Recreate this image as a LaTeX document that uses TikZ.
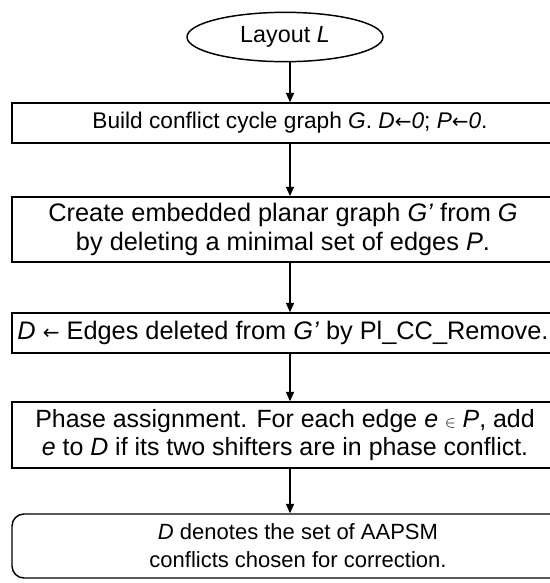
\documentclass[tikz,border=0pt]{standalone}
\usepackage{fontspec}
\setmainfont{Liberation Sans}
\newfontfamily\arrowfont{DejaVu Sans}
\usetikzlibrary{arrows.meta, shapes.geometric, positioning}
\definecolor{node-border}{HTML}{000000}
\definecolor{node-fill}{HTML}{FFFFFF}
\definecolor{arrow}{HTML}{000000}
\newcommand{\getsarrow}{{\arrowfont\fontsize{15}{15}\selectfont ←}}
\tikzset{
  % #1 = x of the text centre; the box always starts at x=12
  flow-node/.style={
    draw=node-border, fill=node-fill, line width=1.1pt,
    minimum width={1.5pt*(#1-12)}, align=center, inner sep=2pt
  },
  flow-start/.style={
    draw=node-border, fill=node-fill, ellipse, line width=1.1pt,
    minimum width=147pt, minimum height=37pt, inner sep=0pt,
    font=\fontsize{17.5}{21}\selectfont
  },
  flow-edge/.style={-{Triangle[length=7pt, width=6pt]}, line width=1.1pt, draw=arrow}
}

\begin{document}
\begin{tikzpicture}[x=0.75pt, y=-0.75pt]
  \useasboundingbox (0,0) rectangle (550,583);
  \clip (0,0) rectangle (550,583);

  \coordinate (spine) at (290, 0);

  \node[flow-start] (layout) at (285, 37) {Layout \textit{L}};
  \node[flow-node=290, minimum height=30pt, font=\fontsize{17}{20}\selectfont]
    (build) at (290, 123)
    {Build conflict cycle graph \textit{G}. \textit{D}\getsarrow\textit{0}; \textit{P}\getsarrow\textit{0}.};
  \node[flow-node=283, minimum height=49pt, font=\fontsize{19}{21.5}\selectfont]
    (planar) at (283, 229.5)
    {Create embedded planar graph \textit{G’} from \textit{G}\\
     by deleting a minimal set of edges \textit{P}.};
  \node[flow-node=283, minimum height=30pt, font=\fontsize{19}{21.5}\selectfont]
    (remove) at (283, 333)
    {\textit{D} \getsarrow{} Edges deleted from \textit{G’} by Pl\_CC\_Remove.};
  \node[flow-node=285, minimum height=49.5pt, font=\fontsize{18.7}{21.5}\selectfont]
    (phase) at (285, 435)
    {Phase assignment. For each edge \textit{e} {\fontsize{12}{12}\selectfont$\in$} \textit{P}, add\\
     \textit{e} to \textit{D} if its two shifters are in phase conflict.};
  \node[flow-node=298, rounded corners=9pt, minimum height=48pt, font=\fontsize{16.5}{21}\selectfont]
    (result) at (298, 546)
    {\textit{D} denotes the set of AAPSM\\
     conflicts chosen for correction.};

  \draw[flow-edge] (layout.south -| spine) -- (build.north -| spine);
  \draw[flow-edge] (build.south -| spine)  -- (planar.north -| spine);
  \draw[flow-edge] (planar.south -| spine) -- (remove.north -| spine);
  \draw[flow-edge] (remove.south -| spine) -- (phase.north -| spine);
  \draw[flow-edge] (phase.south -| spine)  -- (result.north -| spine);
\end{tikzpicture}
\end{document}
